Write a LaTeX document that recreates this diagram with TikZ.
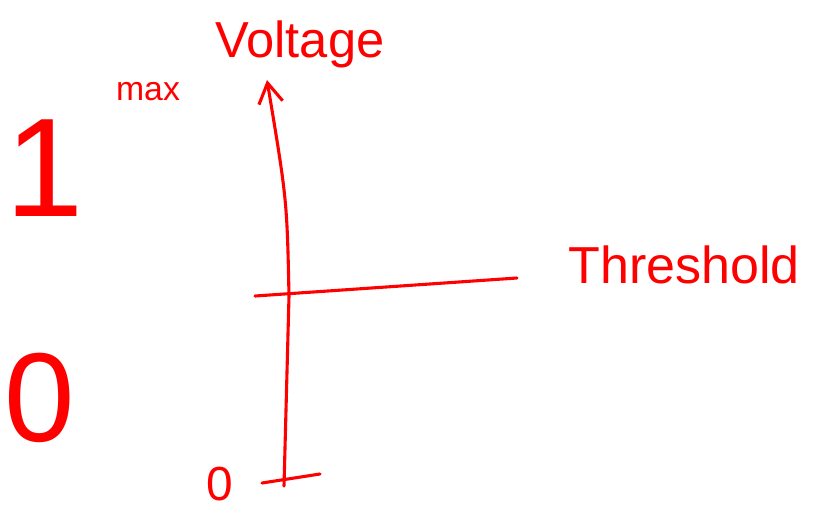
\documentclass[tikz,border=0pt]{standalone}
\usepackage{fontspec}
\setmainfont{Liberation Sans}
\usepackage{tikz}
\usetikzlibrary{arrows.meta}
\definecolor{ink}{RGB}{255,0,0}
\tikzset{
    pen/.style={draw=ink, line width=2.2pt, line cap=round, line join=round},
    word/.style={text=ink, inner sep=0pt},
    arrow/.style={-{Straight Barb[length=5mm, width=6mm, line width=2.2pt]}}
}
\begin{document}
\begin{tikzpicture}[x=0.025cm, y=-0.025cm]
\useasboundingbox (0,0) rectangle (813,514);
% axis points
\coordinate (base) at (284,486);
\coordinate (mid) at (289,296);
\coordinate (top) at (267,80);
\coordinate (thrL) at (255,296);
\coordinate (thrR) at (517,278);
\coordinate (tickL) at (262,483);
\coordinate (tickR) at (320,474);
% texts
\node[word, font=\fontsize{36}{36}\selectfont] (volt) at (300,44) {Voltage};
\node[word, font=\fontsize{24}{24}\selectfont] (max) at (148,92) {max};
\node[word, font=\fontsize{100}{100}\selectfont] (one) at (45,168) {1};
\node[word, font=\fontsize{90}{90}\selectfont] (zero) at (40,398) {0};
\node[word, font=\fontsize{37}{37}\selectfont] (thr) at (684,265) {Threshold};
\node[word, font=\fontsize{34}{34}\selectfont] (origin) at (220,484) {0};
% lines
\draw[pen, arrow] (base) -- (mid) .. controls (287,200) .. (top);
\draw[pen] (thrL) -- (thrR);
\draw[pen] (tickL) -- (tickR);
\end{tikzpicture}
\end{document}
